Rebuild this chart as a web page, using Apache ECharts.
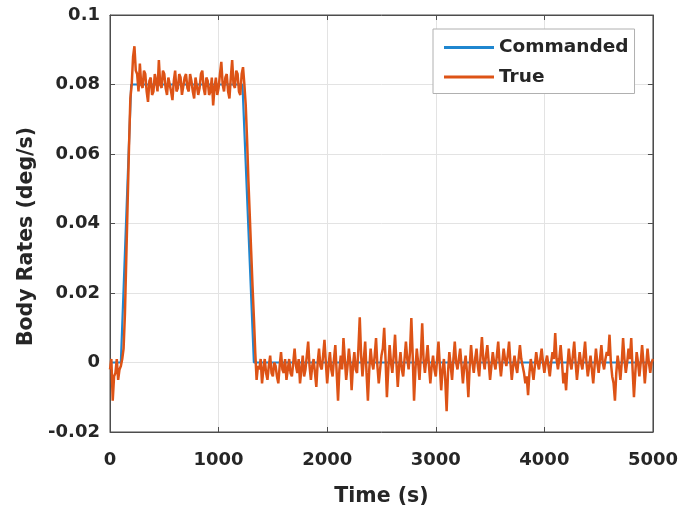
<!DOCTYPE html>
<html>
<head>
<meta charset="utf-8">
<script src="https://cdn.jsdelivr.net/npm/echarts@6/dist/echarts.min.js"></script>
<style>html,body{margin:0;padding:0;background:#fff}#c{width:681px;height:513px}</style>
</head>
<body>
<div id="c"></div>
<script>
// Commanded body rate (breakpoints of piecewise-linear profile)
const cmdTime = [0, 100, 195, 1220, 1325, 5000];
const cmdRate = [0, 0, 0.08, 0.08, 0, 0];

// True body rate samples (time in s)
const trueTime = [
0,12.5,25,37.5,50,62.5,75,87.5,
100,112.5,125,137.5,150,162.5,175,187.5,
200,212.5,225,237.5,250,262.5,275,287.5,
300,312.5,325,337.5,350,362.5,375,387.5,
400,412.5,425,437.5,450,462.5,475,487.5,
500,512.5,525,537.5,550,562.5,575,587.5,
600,612.5,625,637.5,650,662.5,675,687.5,
700,712.5,725,737.5,750,762.5,775,787.5,
800,812.5,825,837.5,850,862.5,875,887.5,
900,912.5,925,937.5,950,962.5,975,987.5,
1000,1012.5,1025,1037.5,1050,1062.5,1075,1087.5,
1100,1112.5,1125,1137.5,1150,1162.5,1175,1187.5,
1200,1212.5,1225,1237.5,1250,1262.5,1275,1287.5,
1300,1312.5,1325,1337.5,1350,1362.5,1375,1387.5,
1400,1412.5,1425,1437.5,1450,1462.5,1475,1487.5,
1500,1512.5,1525,1537.5,1550,1562.5,1575,1587.5,
1600,1612.5,1625,1637.5,1650,1662.5,1675,1687.5,
1700,1712.5,1725,1737.5,1750,1762.5,1775,1787.5,
1800,1812.5,1825,1837.5,1850,1862.5,1875,1887.5,
1900,1912.5,1925,1937.5,1950,1962.5,1975,1987.5,
2000,2012.5,2025,2037.5,2050,2062.5,2075,2087.5,
2100,2112.5,2125,2137.5,2150,2162.5,2175,2187.5,
2200,2212.5,2225,2237.5,2250,2262.5,2275,2287.5,
2300,2312.5,2325,2337.5,2350,2362.5,2375,2387.5,
2400,2412.5,2425,2437.5,2450,2462.5,2475,2487.5,
2500,2512.5,2525,2537.5,2550,2562.5,2575,2587.5,
2600,2612.5,2625,2637.5,2650,2662.5,2675,2687.5,
2700,2712.5,2725,2737.5,2750,2762.5,2775,2787.5,
2800,2812.5,2825,2837.5,2850,2862.5,2875,2887.5,
2900,2912.5,2925,2937.5,2950,2962.5,2975,2987.5,
3000,3012.5,3025,3037.5,3050,3062.5,3075,3087.5,
3100,3112.5,3125,3137.5,3150,3162.5,3175,3187.5,
3200,3212.5,3225,3237.5,3250,3262.5,3275,3287.5,
3300,3312.5,3325,3337.5,3350,3362.5,3375,3387.5,
3400,3412.5,3425,3437.5,3450,3462.5,3475,3487.5,
3500,3512.5,3525,3537.5,3550,3562.5,3575,3587.5,
3600,3612.5,3625,3637.5,3650,3662.5,3675,3687.5,
3700,3712.5,3725,3737.5,3750,3762.5,3775,3787.5,
3800,3812.5,3825,3837.5,3850,3862.5,3875,3887.5,
3900,3912.5,3925,3937.5,3950,3962.5,3975,3987.5,
4000,4012.5,4025,4037.5,4050,4062.5,4075,4087.5,
4100,4112.5,4125,4137.5,4150,4162.5,4175,4187.5,
4200,4212.5,4225,4237.5,4250,4262.5,4275,4287.5,
4300,4312.5,4325,4337.5,4350,4362.5,4375,4387.5,
4400,4412.5,4425,4437.5,4450,4462.5,4475,4487.5,
4500,4512.5,4525,4537.5,4550,4562.5,4575,4587.5,
4600,4612.5,4625,4637.5,4650,4662.5,4675,4687.5,
4700,4712.5,4725,4737.5,4750,4762.5,4775,4787.5,
4800,4812.5,4825,4837.5,4850,4862.5,4875,4887.5,
4900,4912.5,4925,4937.5,4950,4962.5,4975,4987.5,
5000
];
// True body rate (deg/s)
const trueRate = [
-0.002,0.001,-0.011,-0.004,-0.003,0.001,-0.005,-0.002,
-0.001,0.001,0.004,0.014,0.03,0.046,0.062,0.076,
0.08,0.088,0.091,0.084,0.083,0.078,0.086,0.08,
0.079,0.084,0.083,0.078,0.075,0.081,0.082,0.077,
0.078,0.083,0.081,0.078,0.087,0.08,0.079,0.084,
0.083,0.079,0.077,0.082,0.082,0.078,0.0755,0.081,
0.084,0.078,0.079,0.083,0.082,0.077,0.077,0.082,
0.083,0.079,0.078,0.083,0.081,0.078,0.076,0.082,
0.082,0.077,0.079,0.083,0.084,0.079,0.077,0.082,
0.081,0.077,0.078,0.082,0.074,0.079,0.082,0.077,
0.079,0.083,0.0865,0.08,0.078,0.082,0.083,0.078,
0.076,0.082,0.087,0.08,0.079,0.084,0.083,0.078,
0.077,0.083,0.085,0.08,0.074,0.064,0.052,0.042,
0.032,0.022,0.013,0.003,-0.005,-0.001,-0.002,0.001,
-0.006,-0.002,0.001,-0.003,-0.005,-0.001,0.002,-0.003,
-0.004,0.0,-0.001,-0.004,-0.006,-0.001,0.003,-0.002,
-0.003,0.001,-0.005,-0.002,0.001,-0.003,-0.004,0.0,
0.004,-0.001,-0.003,0.001,-0.006,-0.002,0.002,-0.004,
-0.002,0.002,0.006,-0.001,-0.005,-0.001,0.001,-0.003,
-0.007,0.0,0.004,-0.001,-0.002,0.002,0.0065,0.0,
-0.006,-0.001,0.003,-0.002,-0.004,0.001,0.005,-0.003,
-0.011,-0.002,0.002,-0.002,0.007,0.001,-0.005,-0.001,
0.004,0.0,-0.008,-0.001,0.003,-0.002,-0.003,0.004,
0.013,0.002,-0.004,0.001,0.006,-0.003,-0.011,-0.002,
0.004,0.0,-0.002,0.002,0.007,-0.001,-0.006,-0.002,
0.002,0.004,0.01,0.001,-0.01,-0.002,0.005,0.0,
-0.003,0.002,0.008,0.0,-0.007,-0.001,0.003,-0.002,
-0.004,0.001,0.006,0.001,-0.002,0.003,0.0128,0.002,
-0.011,-0.002,0.004,0.0,-0.005,0.002,0.0113,0.001,
-0.003,0.001,0.005,-0.001,-0.006,-0.001,0.002,-0.002,
-0.004,0.001,0.006,-0.001,-0.008,-0.002,0.001,-0.005,
-0.014,-0.003,0.003,-0.001,-0.005,0.001,0.006,0.0,
-0.002,0.001,0.004,-0.001,-0.006,-0.001,0.002,-0.003,
-0.01,-0.001,0.005,0.0,-0.003,0.001,0.004,-0.001,
-0.004,0.002,0.0073,0.001,-0.002,0.002,0.005,0.0,
-0.005,-0.001,0.003,0.0,-0.002,0.002,0.006,0.0,
-0.004,0.0,0.004,0.001,-0.001,0.002,0.006,0.0,
-0.005,-0.001,0.002,-0.001,-0.003,0.001,0.005,0.001,
-0.001,-0.003,-0.006,-0.004,-0.0094,-0.003,0.001,-0.002,
-0.005,-0.001,0.003,0.0,-0.002,0.001,0.004,0.0,
-0.003,0.0,0.002,-0.001,-0.004,0.0,0.003,0.001,
0.0085,0.001,-0.002,0.001,0.005,0.0,-0.006,-0.003,
-0.008,-0.001,0.004,0.0,-0.002,0.002,0.006,0.0,
-0.005,-0.001,0.003,0.0,-0.002,0.002,0.006,0.0,
-0.004,-0.001,0.002,-0.002,-0.006,-0.001,0.004,0.0,
-0.003,0.001,0.005,0.0,-0.002,0.001,0.003,0.002,
0.008,0.0,-0.004,-0.006,-0.011,-0.003,0.002,-0.001,
-0.005,0.0,0.007,0.001,-0.003,0.0,0.004,0.001,
0.007,-0.002,-0.01,-0.003,0.003,0.0,-0.004,0.0,
0.005,0.0,-0.006,-0.001,0.004,0.0,-0.003,0.0,
0.001
];

// Axis ticks
const xTicks = {min: 0, max: 5000, interval: 1000};
const yTicks = {min: -0.02, max: 0.1, interval: 0.02};

const cmdData = cmdTime.map((t, i) => [t, cmdRate[i]]);
const trueData = trueTime.map((t, i) => [t, trueRate[i]]);

const FONT = '"DejaVu Sans", sans-serif';
const TXT = '#262626';
const AX = '#4d4d4d';

const chart = echarts.init(document.getElementById('c'), null, {renderer: 'canvas'});
chart.setOption({
  backgroundColor: '#fff',
  animation: false,
  grid: {left: 110, right: 27, top: 15, bottom: 81, show: true, borderColor: AX, borderWidth: 1},
  legend: {
    orient: 'vertical',
    left: 433, top: 29,
    padding: [9, 6, 7, 11],
    itemGap: 10.5,
    itemWidth: 50, itemHeight: 3,
    icon: 'rect',
    backgroundColor: '#fff',
    borderColor: '#b0b0b0', borderWidth: 1,
    textStyle: {fontFamily: FONT, fontWeight: 'bold', fontSize: 18.5, color: TXT, padding: [0,0,0,0]},
    data: ['Commanded', 'True']
  },
  xAxis: [{
    type: 'value', min: xTicks.min, max: xTicks.max, interval: xTicks.interval,
    name: 'Time (s)', nameLocation: 'middle', nameGap: 54,
    nameTextStyle: {fontFamily: FONT, fontWeight: 'bold', fontSize: 20.5, color: TXT},
    axisLine: {show: true, onZero: false, lineStyle: {color: AX, width: 1}},
    axisTick: {show: true, inside: true, length: 5, lineStyle: {color: AX}},
    axisLabel: {fontFamily: FONT, fontWeight: 'bold', fontSize: 18, color: TXT, margin: 19,
                formatter: v => String(v)},
    splitLine: {show: true, lineStyle: {color: '#e3e3e3', width: 1}}
  }, {
    type: 'value', position: 'top', min: xTicks.min, max: xTicks.max, interval: xTicks.interval,
    axisLine: {show: true, onZero: false, lineStyle: {color: AX}},
    axisTick: {show: true, inside: true, length: 5, lineStyle: {color: AX}},
    axisLabel: {show: false}, splitLine: {show: false}
  }],
  yAxis: [{
    type: 'value', min: yTicks.min, max: yTicks.max, interval: yTicks.interval,
    name: 'Body Rates (deg/s)', nameLocation: 'middle', nameGap: 72,
    nameTextStyle: {fontFamily: FONT, fontWeight: 'bold', fontSize: 20.5, color: TXT, padding: [0, 26, 0, 0]},
    axisLine: {show: true, onZero: false, lineStyle: {color: AX, width: 1}},
    axisTick: {show: true, inside: true, length: 5, lineStyle: {color: AX}},
    axisLabel: {fontFamily: FONT, fontWeight: 'bold', fontSize: 18, color: TXT, margin: 10},
    splitLine: {show: true, lineStyle: {color: '#e3e3e3', width: 1}}
  }, {
    type: 'value', position: 'right', min: yTicks.min, max: yTicks.max, interval: yTicks.interval,
    axisLine: {show: true, onZero: false, lineStyle: {color: AX}},
    axisTick: {show: true, inside: true, length: 5, lineStyle: {color: AX}},
    axisLabel: {show: false}, splitLine: {show: false}
  }],
  series: [{
    name: 'Commanded', type: 'line', data: cmdData, showSymbol: false, symbol: 'none',
    lineStyle: {color: '#1f86cf', width: 2.2}, itemStyle: {color: '#1f86cf'}, z: 2
  }, {
    name: 'True', type: 'line', data: trueData, showSymbol: false, symbol: 'none',
    lineStyle: {color: '#dd5316', width: 2.5}, itemStyle: {color: '#dd5316'}, z: 3
  }]
});
</script>
</body>
</html>
